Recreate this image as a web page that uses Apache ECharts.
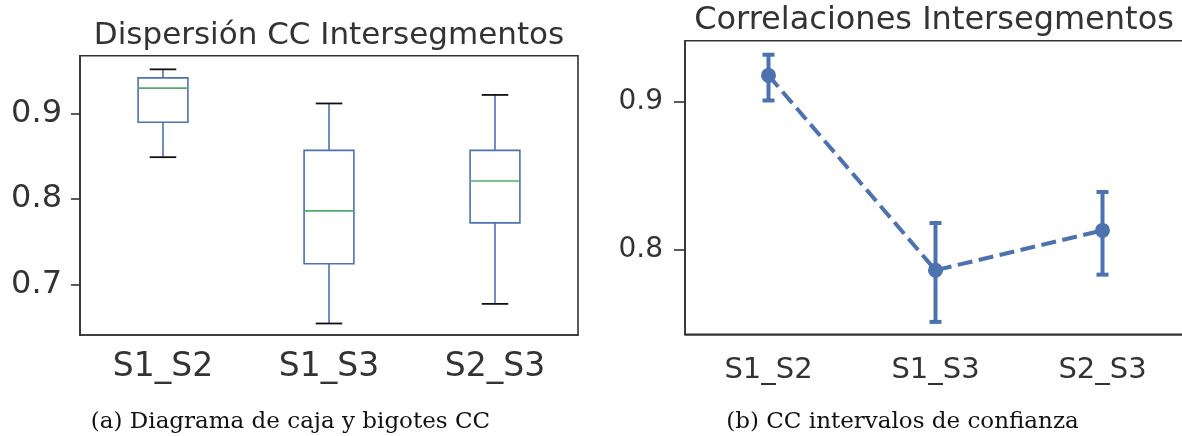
<!DOCTYPE html>
<html>
<head>
<meta charset="utf-8">
<script src="https://cdn.jsdelivr.net/npm/echarts@6/dist/echarts.min.js"></script>
<style>
  html, body { margin: 0; padding: 0; background: #fff; }
  #chart { width: 1182px; height: 436px; }
</style>
</head>
<body>
<div id="chart"></div>
<script>
// Pair labels shared by both panels
const categories = ['S1_S2', 'S1_S3', 'S2_S3'];

// Five-number summary per pair (box plot)
const boxMin    = [0.849, 0.654, 0.677];
const boxQ1     = [0.890, 0.724, 0.772];
const boxMedian = [0.930, 0.786, 0.821];
const boxQ3     = [0.942, 0.857, 0.857];
const boxMax    = [0.952, 0.912, 0.922];

// Mean CC and confidence interval per pair
const meanCC = [0.918, 0.786, 0.813];
const ciLow  = [0.901, 0.751, 0.783];
const ciHigh = [0.932, 0.818, 0.839];

// Tick labels
const boxTicks  = [0.7, 0.8, 0.9];
const meanTicks = [0.8, 0.9];

const titles   = ['Dispersión CC Intersegmentos', 'Correlaciones Intersegmentos'];
const captions = ['(a) Diagrama de caja y bigotes CC', '(b) CC intervalos de confianza'];

// Styling
const BLUE  = '#4c72b0';
const GREEN = '#55a868';
const INK   = '#333333';
const SANS  = '"DejaVu Sans", sans-serif';
const SERIF = '"DejaVu Serif", serif';

const boxData = categories.map((c, i) => [i, boxMin[i], boxQ1[i], boxMedian[i], boxQ3[i], boxMax[i]]);
const ciData  = categories.map((c, i) => [i, ciLow[i], ciHigh[i]]);

function renderBox(params, api) {
  const i = api.value(0);
  const band = api.size([1, 0])[0];
  const half = band * 0.15;
  const capHalf = band * 0.08;
  const x = api.coord([i, 0])[0];
  const y = k => api.coord([i, api.value(k)])[1];
  const yMin = y(1), yQ1 = y(2), yMed = y(3), yQ3 = y(4), yMax = y(5);
  const blue = { stroke: BLUE, lineWidth: 1.6, fill: null };
  const cap = { stroke: '#111', lineWidth: 1.8 };
  return {
    type: 'group',
    children: [
      { type: 'line', shape: { x1: x, y1: yQ3, x2: x, y2: yMax }, style: blue },
      { type: 'line', shape: { x1: x, y1: yQ1, x2: x, y2: yMin }, style: blue },
      { type: 'rect', shape: { x: x - half, y: yQ3, width: 2 * half, height: yQ1 - yQ3 }, style: { stroke: BLUE, lineWidth: 1.6, fill: 'none' } },
      { type: 'line', shape: { x1: x - half, y1: yMed, x2: x + half, y2: yMed }, style: { stroke: GREEN, lineWidth: 1.6 } },
      { type: 'line', shape: { x1: x - capHalf, y1: yMax, x2: x + capHalf, y2: yMax }, style: cap },
      { type: 'line', shape: { x1: x - capHalf, y1: yMin, x2: x + capHalf, y2: yMin }, style: cap }
    ]
  };
}

function renderErr(params, api) {
  const i = api.value(0);
  const x = api.coord([i, 0])[0];
  const yLo = api.coord([i, api.value(1)])[1];
  const yHi = api.coord([i, api.value(2)])[1];
  const c = 6;
  const st = { stroke: BLUE, lineWidth: 4 };
  return {
    type: 'group',
    children: [
      { type: 'line', shape: { x1: x, y1: yLo, x2: x, y2: yHi }, style: st },
      { type: 'line', shape: { x1: x - c, y1: yHi, x2: x + c, y2: yHi }, style: st },
      { type: 'line', shape: { x1: x - c, y1: yLo, x2: x + c, y2: yLo }, style: st }
    ]
  };
}

const gridBorder = { show: true, borderColor: INK, borderWidth: 1.6, backgroundColor: 'transparent', outerBoundsMode: 'none', containLabel: false };

const chart = echarts.init(document.getElementById('chart'));
chart.setOption({
  animation: false,
  backgroundColor: '#fff',
  grid: [
    Object.assign({ left: 80, top: 55.7, width: 498, height: 279.3 }, gridBorder),
    Object.assign({ left: 685, top: 40.7, width: 501, height: 293.6 }, gridBorder)
  ],
  xAxis: [
    {
      type: 'category', gridIndex: 0, data: categories, boundaryGap: true,
      axisLine: { lineStyle: { color: INK, width: 1.6 } },
      axisTick: { alignWithLabel: true, length: 10, lineStyle: { color: INK, width: 1.6 } },
      axisLabel: { margin: 16, fontSize: 33, fontFamily: SANS, color: INK },
      splitLine: { show: false }
    },
    {
      type: 'category', gridIndex: 1, data: categories, boundaryGap: true,
      axisLine: { lineStyle: { color: INK, width: 1.6 } },
      axisTick: { alignWithLabel: true, length: 10, lineStyle: { color: INK, width: 1.6 } },
      axisLabel: { margin: 22, fontSize: 29, fontFamily: SANS, color: INK },
      splitLine: { show: false }
    }
  ],
  yAxis: [
    {
      type: 'value', gridIndex: 0, min: 0.6405, max: 0.968,
      axisLine: { show: true, lineStyle: { color: INK, width: 1.6 } },
      axisTick: { show: true, length: 9, customValues: boxTicks, lineStyle: { color: INK, width: 1.6 } },
      axisLabel: { margin: 18, fontSize: 32, fontFamily: SANS, color: INK, customValues: boxTicks, formatter: v => v.toFixed(1) },
      splitLine: { show: false }
    },
    {
      type: 'value', gridIndex: 1, min: 0.7426, max: 0.9415,
      axisLine: { show: true, lineStyle: { color: INK, width: 1.6 } },
      axisTick: { show: true, length: 11, customValues: meanTicks, lineStyle: { color: INK, width: 1.6 } },
      axisLabel: { margin: 22, fontSize: 28, fontFamily: SANS, color: INK, customValues: meanTicks, formatter: v => v.toFixed(1) },
      splitLine: { show: false }
    }
  ],
  series: [
    {
      type: 'custom', xAxisIndex: 0, yAxisIndex: 0,
      renderItem: renderBox, data: boxData,
      encode: { x: 0, y: [1, 2, 3, 4, 5] }, clip: false
    },
    {
      type: 'custom', xAxisIndex: 1, yAxisIndex: 1,
      renderItem: renderErr, data: ciData,
      encode: { x: 0, y: [1, 2] }, clip: false, z: 2
    },
    {
      type: 'line', xAxisIndex: 1, yAxisIndex: 1, data: meanCC,
      symbol: 'circle', symbolSize: 15,
      itemStyle: { color: BLUE, borderWidth: 0 },
      lineStyle: { color: BLUE, width: 4, type: [15, 6.5] },
      z: 3
    }
  ],
  graphic: [
    { type: 'text', x: 329, y: 35.5, style: { text: titles[0], fontSize: 31, fontFamily: SANS, fill: INK, align: 'center', verticalAlign: 'middle' } },
    { type: 'text', x: 934, y: 20.5, style: { text: titles[1], fontSize: 32, fontFamily: SANS, fill: INK, align: 'center', verticalAlign: 'middle' } },
    { type: 'text', x: 290.5, y: 422, style: { text: captions[0], fontSize: 23, fontFamily: SERIF, fill: '#111', align: 'center', verticalAlign: 'middle' } },
    { type: 'text', x: 902.5, y: 422, style: { text: captions[1], fontSize: 23, fontFamily: SERIF, fill: '#111', align: 'center', verticalAlign: 'middle' } }
  ]
});
</script>
</body>
</html>
